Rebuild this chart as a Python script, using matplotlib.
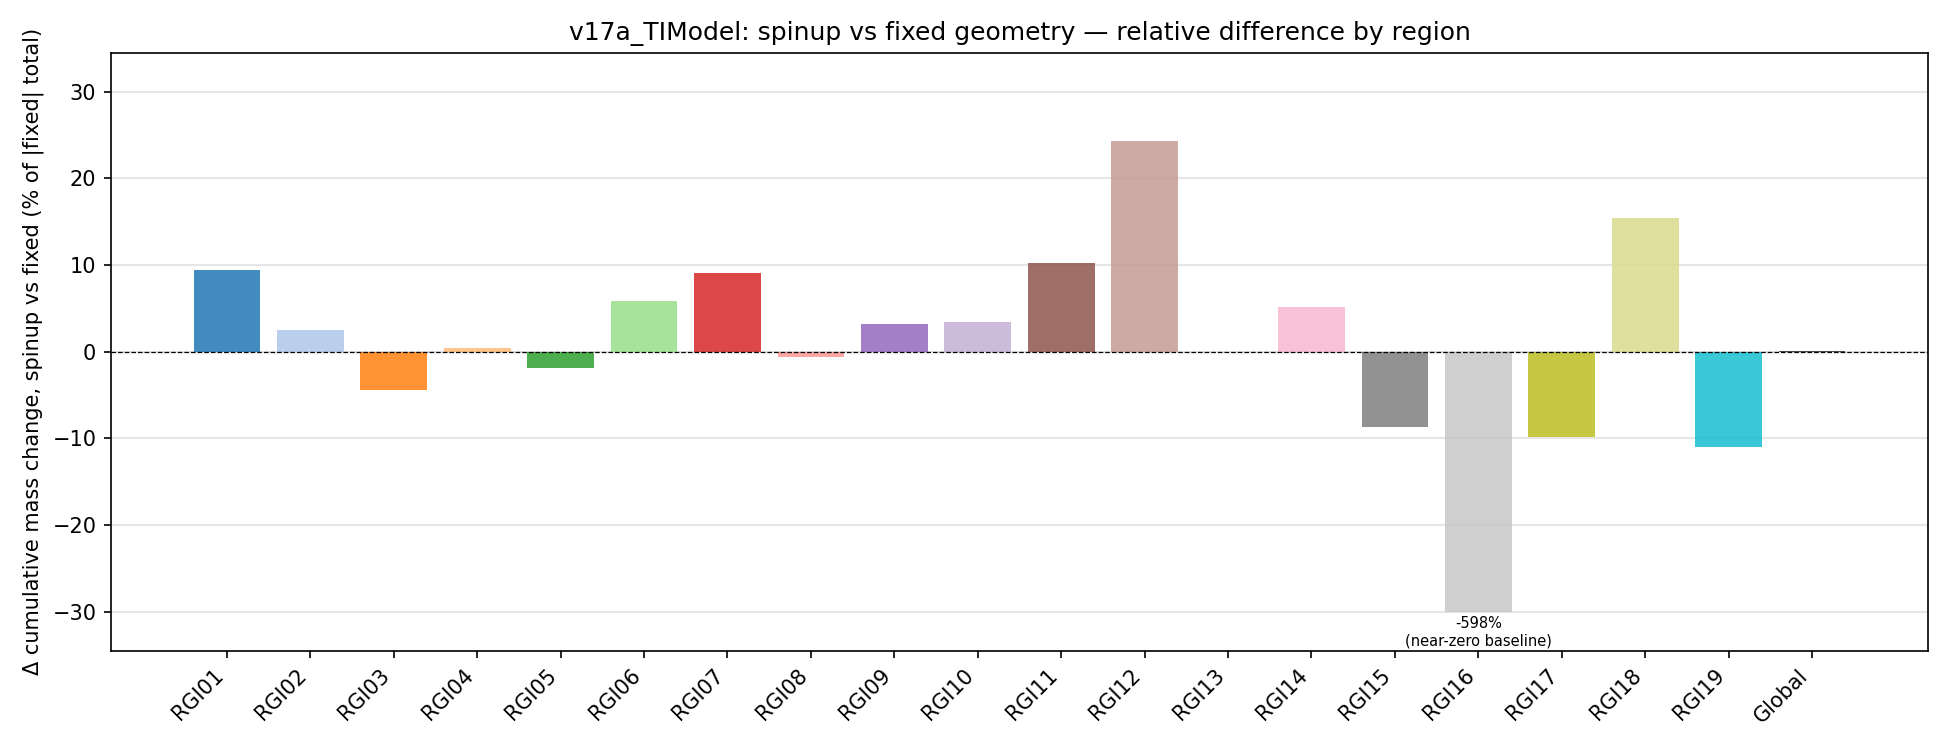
import matplotlib
matplotlib.use("Agg")
import matplotlib.pyplot as plt
import numpy as np

regions = ["RGI01", "RGI02", "RGI03", "RGI04", "RGI05", "RGI06", "RGI07", "RGI08",
           "RGI09", "RGI10", "RGI11", "RGI12", "RGI13", "RGI14", "RGI15", "RGI16",
           "RGI17", "RGI18", "RGI19", "Global"]
rel_diff_pct = [9.46, 2.54, -4.38, 0.46, -1.85, 5.88, 9.03, -0.63,
                3.15, 3.38, 10.2, 24.3, -0.05, 5.12, -8.64, -598.0,
                -9.8, 15.4, -11.03, 0.13]
clip_val = 30.0
ylims = (-34.5, 34.5)

tab20 = plt.get_cmap("tab20").colors
colors = [tab20[i] for i in range(19)] + ["#333333"]

fig = plt.figure(figsize=(13, 5), dpi=150)
ax = fig.add_axes([0.0569, 0.1324, 0.9318, 0.7973])

x = np.arange(len(regions))
vals = np.array(rel_diff_pct)
plotted = np.clip(vals, -clip_val, clip_val)
ax.bar(x, plotted, color=colors, alpha=0.85, width=0.8, zorder=2)

for xi, v in zip(x, vals):
    if abs(v) > clip_val:
        ax.text(xi, np.sign(v) * clip_val - 0.5, f"{v:.0f}%\n(near-zero baseline)",
                ha="center", va="top", fontsize=7, zorder=3)

ax.axhline(0, color="black", linestyle="--", linewidth=0.6, zorder=3)
ax.set_ylim(*ylims)
ax.set_xticks(x)
ax.set_xticklabels(regions, rotation=45, ha="right", rotation_mode="default")
ax.set_ylabel("Δ cumulative mass change, spinup vs fixed (% of |fixed| total)")
ax.set_title("v17a_TIModel: spinup vs fixed geometry — relative difference by region", fontsize=12)
ax.yaxis.grid(True, color="#e6e6e6", linewidth=1.0, zorder=0)
ax.set_axisbelow(True)

fig.savefig("out.png", dpi=150)
